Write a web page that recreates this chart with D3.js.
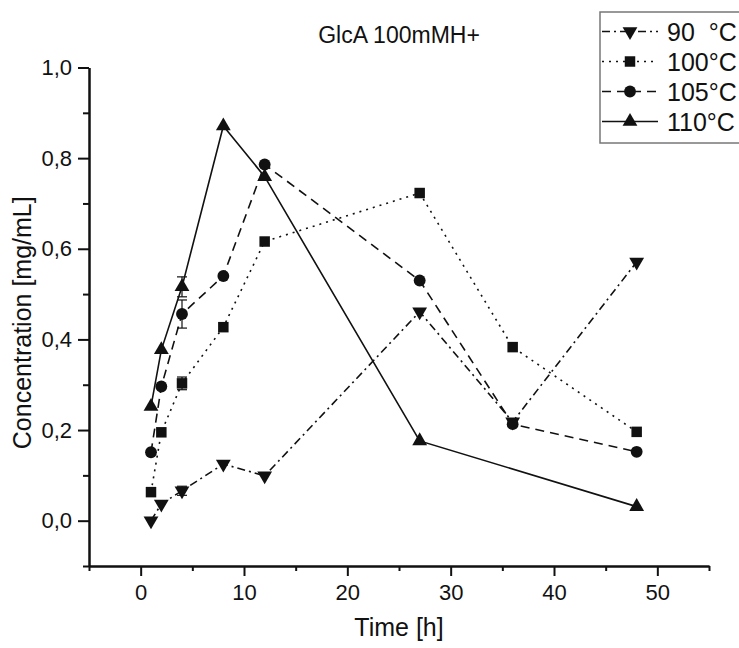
<!DOCTYPE html>
<html>
<head>
<meta charset="utf-8">
<script src="https://cdn.jsdelivr.net/npm/d3@7"></script>
<style>
  html, body { margin: 0; padding: 0; background: #fff; }
  svg { display: block; font-family: "Liberation Sans", Arial, sans-serif; }
</style>
</head>
<body>
<svg id="chart" width="739" height="648"></svg>
<script>
// Sampling times (h)
const times = [1, 2, 4, 8, 12, 27, 36, 48];

// GlcA concentration (mg/mL) per temperature; null = not measured
const conc90  = [0.000, 0.037, 0.066, 0.125, 0.099, 0.461, 0.218, 0.571];
const conc100 = [0.063, 0.195, 0.303, 0.427, 0.616, 0.723, 0.383, 0.196];
const conc105 = [0.151, 0.296, 0.456, 0.540, 0.786, 0.530, 0.213, 0.152];
const conc110 = [0.252, 0.377, 0.516, 0.871, 0.759, 0.176, null, 0.031];

// Standard deviations
const err90  = [0, 0, 0.010, 0, 0, 0, 0, 0];
const err100 = [0, 0, 0.014, 0, 0, 0, 0, 0];
const err105 = [0, 0, 0.031, 0, 0, 0, 0, 0];
const err110 = [0, 0, 0.022, 0, 0, 0, 0, 0];

const seriesLabels = ["90  °C", "100°C", "105°C", "110°C"];

// Axis ticks
const xMajor = [0, 10, 20, 30, 40, 50];
const xMinor = [-5, 5, 15, 25, 35, 45, 55];
const yMajor = [0, 0.2, 0.4, 0.6, 0.8, 1.0];
const yMinor = [-0.1, 0.1, 0.3, 0.5, 0.7, 0.9];

const series = [
  { name: seriesLabels[0], values: conc90,  errs: err90,  dash: "8,4,2,4", symbol: "down" },
  { name: seriesLabels[1], values: conc100, errs: err100, dash: "2,5",     symbol: "square" },
  { name: seriesLabels[2], values: conc105, errs: err105, dash: "9,6",     symbol: "circle" },
  { name: seriesLabels[3], values: conc110, errs: err110, dash: null,      symbol: "up" }
];

const svg = d3.select("#chart");
const ink = "#111";

const x = d3.scaleLinear().domain([-5, 55]).range([89, 709]);
const y = d3.scaleLinear().domain([-0.1, 1.0]).range([566, 67.5]);

const fmt = d => d3.format(".1f")(d).replace(".", ",");

// Axes
const axisG = svg.append("g");
axisG.append("g").attr("transform", `translate(${x(-5)},0)`)
  .call(d3.axisLeft(y).tickValues(yMajor).tickFormat(fmt).tickSize(11).tickSizeOuter(0).tickPadding(6));
axisG.append("g").attr("transform", `translate(${x(-5)},0)`)
  .call(d3.axisLeft(y).tickValues(yMinor).tickFormat("").tickSize(6).tickSizeOuter(0));
axisG.append("g").attr("transform", `translate(0,${y(-0.1)})`)
  .call(d3.axisBottom(x).tickValues(xMajor).tickFormat(d3.format("d")).tickSize(10).tickSizeOuter(0).tickPadding(8));
axisG.append("g").attr("transform", `translate(0,${y(-0.1)})`)
  .call(d3.axisBottom(x).tickValues(xMinor).tickFormat("").tickSize(5).tickSizeOuter(0));

axisG.selectAll(".domain").attr("stroke", ink).attr("stroke-width", 2);
axisG.selectAll(".tick line").attr("stroke", ink).attr("stroke-width", 2);
axisG.selectAll(".tick text").attr("fill", ink).style("font-size", "22px");

// Axis titles and chart title
const midX = (x.range()[0] + x.range()[1]) / 2;
const midY = (y.range()[0] + y.range()[1]) / 2;
svg.append("text").attr("x", midX).attr("y", 636).attr("text-anchor", "middle")
  .style("font-size", "25px").attr("fill", ink).text("Time [h]");
svg.append("text").attr("transform", `translate(31,${midY + 6}) rotate(-90)`).attr("text-anchor", "middle")
  .style("font-size", "25px").attr("fill", ink).text("Concentration [mg/mL]");
svg.append("text").attr("x", midX).attr("y", 43).attr("text-anchor", "middle")
  .style("font-size", "23px").attr("fill", ink).text("GlcA 100mMH+");

// Marker shapes
function symbolPath(kind) {
  if (kind === "square") return d3.symbol(d3.symbolSquare, 110)();
  if (kind === "circle") return d3.symbol(d3.symbolCircle, 110)();
  return d3.symbol(d3.symbolTriangle, 95)();
}
function drawMarker(g, kind, cx, cy) {
  g.append("path")
    .attr("d", symbolPath(kind))
    .attr("transform", `translate(${cx},${cy})` + (kind === "down" ? " rotate(180)" : ""))
    .attr("fill", ink);
}

// Lines, error bars and markers
const plot = svg.append("g");
series.forEach(s => {
  const pts = times.map((t, i) => ({ t, v: s.values[i], e: s.errs[i] })).filter(p => p.v !== null);
  const line = d3.line().x(p => x(p.t)).y(p => y(p.v));
  plot.append("path").datum(pts).attr("d", line)
    .attr("fill", "none").attr("stroke", ink).attr("stroke-width", 1.6)
    .attr("stroke-dasharray", s.dash);
  pts.filter(p => p.e > 0).forEach(p => {
    const g = plot.append("g").attr("stroke", ink).attr("stroke-width", 1.2);
    g.append("line").attr("x1", x(p.t)).attr("x2", x(p.t)).attr("y1", y(p.v - p.e)).attr("y2", y(p.v + p.e));
    [p.v - p.e, p.v + p.e].forEach(v => {
      g.append("line").attr("x1", x(p.t) - 5).attr("x2", x(p.t) + 5).attr("y1", y(v)).attr("y2", y(v));
    });
  });
  pts.forEach(p => drawMarker(plot, s.symbol, x(p.t), y(p.v)));
});

// Legend
const legend = svg.append("g");
legend.append("rect").attr("x", 600).attr("y", 12).attr("width", 160).attr("height", 131)
  .attr("fill", "#fff").attr("stroke", "#777").attr("stroke-width", 1.5);
series.forEach((s, i) => {
  const ry = 31.5 + i * 30;
  legend.append("line").attr("x1", 602).attr("x2", 658).attr("y1", ry).attr("y2", ry)
    .attr("stroke", ink).attr("stroke-width", 1.6).attr("stroke-dasharray", s.dash);
  drawMarker(legend, s.symbol, 630, ry);
  legend.append("text").attr("x", 667).attr("y", ry + 9)
    .attr("xml:space", "preserve").style("white-space", "pre")
    .style("font-size", "25px").attr("fill", ink).text(s.name);
});
</script>
</body>
</html>
